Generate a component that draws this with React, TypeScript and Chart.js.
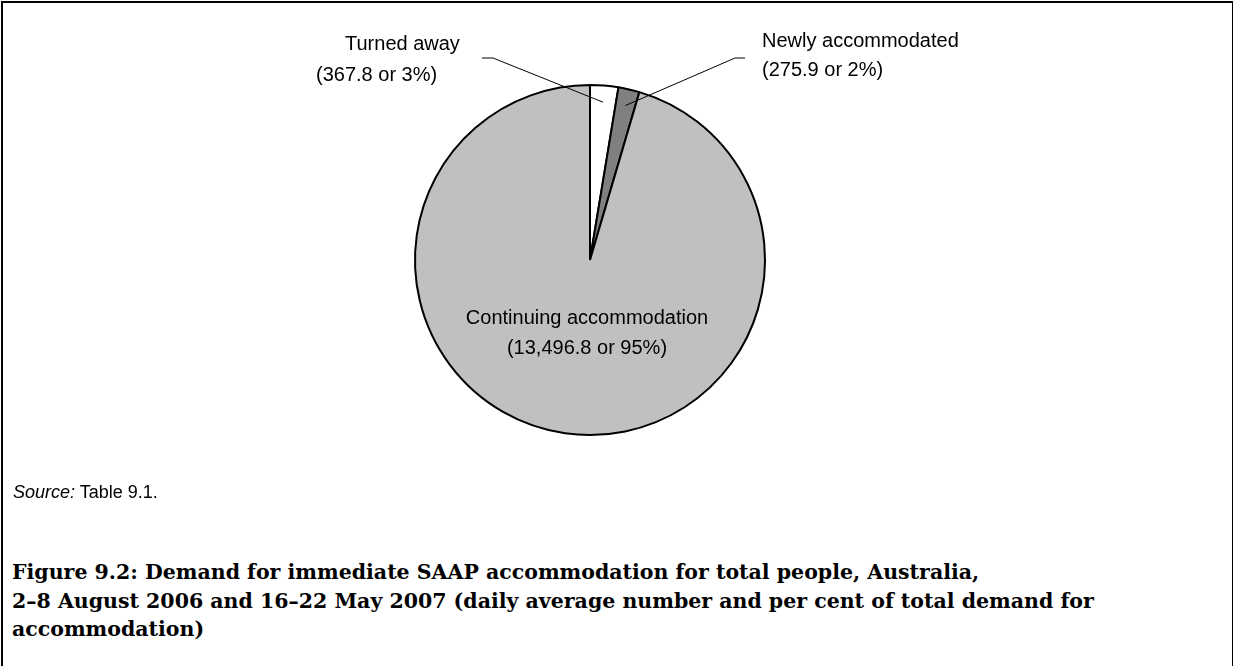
import React, { useEffect, useRef } from "react";
import { Chart, registerables } from "chart.js";

Chart.register(...registerables);

const categories = ["Turned away", "Newly accommodated", "Continuing accommodation"];
const values = [367.8, 275.9, 13496.8];
const sliceColors = ["#ffffff", "#808080", "#c0c0c0"];
const sourceNote = "Table 9.1.";
const titleLines = [
  "Figure 9.2: Demand for immediate SAAP accommodation for total people, Australia,",
  "2–8 August 2006 and 16–22 May 2007 (daily average number and per cent of total demand for",
  "accommodation)",
];

const total = values.reduce((a, b) => a + b, 0);
const fmt = (v: number) =>
  v.toLocaleString("en-AU", { minimumFractionDigits: 1, maximumFractionDigits: 1 });
const labelLines = categories.map((c, i) => [
  c,
  `(${fmt(values[i])} or ${Math.round((values[i] / total) * 100)}%)`,
]);

// leader line anchors (label side) for the two small slices
const leaderAnchors: Record<number, [number, number][]> = {
  0: [
    [482, 58],
    [493, 58],
  ],
  1: [
    [745, 58],
    [735, 58],
  ],
};

const SANS = '"Liberation Sans", Arial, sans-serif';

export default function App() {
  const ref = useRef<HTMLCanvasElement | null>(null);

  useEffect(() => {
    if (!ref.current) return;
    const leaderPlugin = {
      id: "leaders",
      afterDatasetsDraw(chart: any) {
        const ctx = chart.ctx;
        const meta = chart.getDatasetMeta(0);
        ctx.save();
        ctx.strokeStyle = "#000";
        ctx.lineWidth = 1;
        Object.keys(leaderAnchors).forEach((k) => {
          const i = Number(k);
          const arc = meta.data[i] as any;
          const p = arc.getProps(["x", "y", "startAngle", "endAngle", "outerRadius"], true);
          const mid = (p.startAngle + p.endAngle) / 2;
          const r = p.outerRadius * 0.905;
          const ex = p.x + Math.cos(mid) * r;
          const ey = p.y + Math.sin(mid) * r;
          const pts = leaderAnchors[i];
          ctx.beginPath();
          ctx.moveTo(pts[0][0], pts[0][1]);
          for (let j = 1; j < pts.length; j++) ctx.lineTo(pts[j][0], pts[j][1]);
          ctx.lineTo(ex, ey);
          ctx.stroke();
        });
        ctx.restore();
      },
    };
    const chart = new Chart(ref.current, {
      type: "pie",
      data: {
        labels: categories,
        datasets: [
          {
            data: values,
            backgroundColor: sliceColors,
            borderColor: "#000000",
            borderWidth: 2,
          },
        ],
      },
      options: {
        animation: false,
        responsive: false,
        events: [],
        layout: { padding: { left: 414, right: 468, top: 84, bottom: 44 } },
        plugins: {
          legend: { display: false },
          tooltip: { enabled: false },
        },
      },
      plugins: [leaderPlugin],
    });
    return () => chart.destroy();
  }, []);

  const textStyle: React.CSSProperties = {
    position: "absolute",
    fontFamily: SANS,
    fontSize: 20,
    lineHeight: "30px",
    color: "#000",
    whiteSpace: "nowrap",
  };

  return (
    <div
      style={{
        position: "fixed",
        left: 0,
        top: 0,
        width: 1234,
        height: 666,
        overflow: "hidden",
        background: "#fff",
      }}
    >
      <div
        style={{
          position: "absolute",
          left: 1,
          top: 1,
          width: 1229,
          height: 700,
          borderLeft: "2.5px solid #000",
          borderTop: "2.5px solid #000",
          borderRight: "1.5px solid #000",
        }}
      />
      <canvas
        ref={ref}
        width={1234}
        height={480}
        style={{ position: "absolute", left: 0, top: 0, width: 1234, height: 480 }}
      />
      <div style={{ ...textStyle, left: 345, top: 28 }}>{labelLines[0][0]}</div>
      <div style={{ ...textStyle, left: 316, top: 59 }}>{labelLines[0][1]}</div>
      <div style={{ ...textStyle, left: 762, top: 25 }}>{labelLines[1][0]}</div>
      <div style={{ ...textStyle, left: 762, top: 54 }}>{labelLines[1][1]}</div>
      <div style={{ ...textStyle, left: 387, width: 400, textAlign: "center", top: 302 }}>
        {labelLines[2][0]}
        <br />
        {labelLines[2][1]}
      </div>
      <div
        style={{
          position: "absolute",
          left: 13,
          top: 478,
          fontFamily: SANS,
          fontSize: 18,
          lineHeight: "28px",
          whiteSpace: "nowrap",
        }}
      >
        <i>Source:</i> {sourceNote}
      </div>
      <div
        style={{
          position: "absolute",
          left: 12,
          top: 558,
          fontFamily: '"DejaVu Serif", serif',
          fontWeight: "bold",
          fontSize: 20.5,
          lineHeight: "28.5px",
          whiteSpace: "nowrap",
        }}
      >
        {titleLines.map((t, i) => (
          <div key={i}>{t}</div>
        ))}
      </div>
    </div>
  );
}
